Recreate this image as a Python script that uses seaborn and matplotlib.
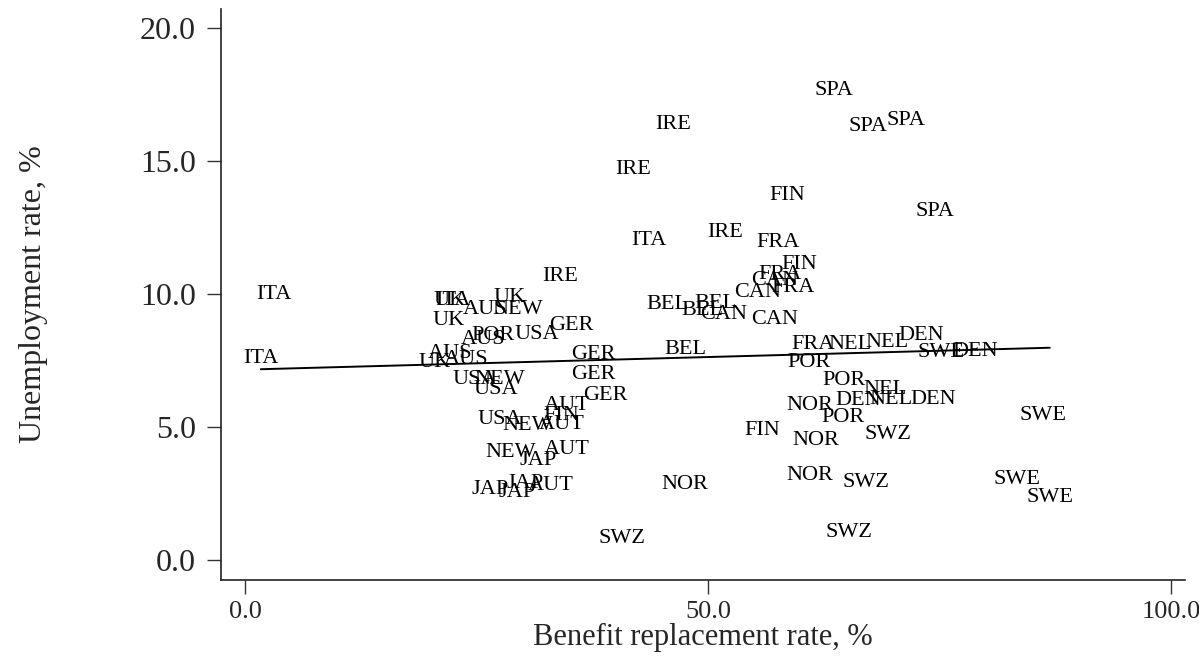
import pandas as pd
import numpy as np
import matplotlib
matplotlib.use("Agg")
import matplotlib.pyplot as plt
from matplotlib.ticker import FormatStrFormatter
import seaborn as sns

# Datos: pais, tasa de reemplazo (%), desempleo (%)
paises = [
    "AUS", "AUS", "AUS", "AUS",
    "AUT", "AUT", "AUT", "AUT",
    "BEL", "BEL", "BEL", "BEL",
    "CAN", "CAN", "CAN", "CAN",
    "DEN", "DEN", "DEN", "DEN",
    "FIN", "FIN", "FIN", "FIN",
    "FRA", "FRA", "FRA", "FRA",
    "GER", "GER", "GER", "GER",
    "IRE", "IRE", "IRE", "IRE",
    "ITA", "ITA", "ITA", "ITA",
    "JAP", "JAP", "JAP", "JAP",
    "NEL", "NEL", "NEL", "NEL",
    "NEW", "NEW", "NEW", "NEW",
    "NOR", "NOR", "NOR", "NOR",
    "POR", "POR", "POR", "POR",
    "SPA", "SPA", "SPA", "SPA",
    "SWE", "SWE", "SWE", "SWE",
    "SWZ", "SWZ", "SWZ", "SWZ",
    "UK", "UK", "UK", "UK",
    "USA", "USA", "USA", "USA",
]
reemplazo = [
    25.9, 25.7, 22.1, 23.9,
    34.7, 34.2, 34.7, 33.0,
    45.6, 49.4, 50.8, 47.6,
    51.7, 55.4, 57.2, 57.2,
    73.0, 78.8, 66.2, 74.3,
    59.8, 58.5, 34.1, 55.9,
    57.6, 57.8, 59.2, 61.3,
    35.2, 37.6, 37.6, 38.9,
    34.0, 41.9, 46.2, 51.8,
    3.1, 1.7, 22.5, 43.6,
    31.6, 26.5, 29.4, 30.2,
    65.3, 69.3, 69.1, 69.7,
    29.4, 27.5, 30.5, 28.7,
    61.0, 61.6, 61.0, 47.5,
    26.8, 60.9, 64.7, 64.6,
    63.6, 67.3, 71.4, 74.5,
    75.1, 86.2, 83.4, 86.9,
    69.4, 67.1, 65.2, 40.7,
    22.1, 28.6, 22.0, 20.5,
    31.5, 24.8, 27.1, 27.5,
]
desempleo = [
    9.29, 8.16, 7.64, 7.41,
    5.68, 4.97, 4.03, 2.67,
    9.48, 9.25, 9.52, 7.79,
    9.10, 9.93, 8.92, 10.38,
    8.31, 7.71, 5.87, 5.91,
    10.98, 13.58, 5.31, 4.74,
    11.81, 10.61, 10.12, 7.98,
    8.69, 7.60, 6.85, 6.06,
    10.53, 14.55, 16.25, 12.19,
    9.86, 7.45, 9.63, 11.89,
    3.61, 2.52, 2.41, 2.75,
    7.98, 8.05, 6.28, 5.91,
    9.29, 6.66, 4.93, 3.92,
    5.68, 4.37, 3.05, 2.71,
    8.31, 7.30, 6.62, 5.23,
    17.52, 16.17, 16.40, 12.98,
    7.67, 5.31, 2.90, 2.22,
    4.59, 2.79, 0.91, 0.68,
    9.63, 9.74, 8.88, 7.30,
    8.35, 6.66, 6.28, 5.16,
]

df = pd.DataFrame({"pais": paises, "reemplazo": reemplazo, "desempleo": desempleo})

sns.set_style("white")
plt.rcParams["font.family"] = ["Liberation Serif", "DejaVu Serif"]

fig = plt.figure(figsize=(11.99, 6.56), dpi=100)
ax = fig.add_axes([0.1843, 0.116, 0.804, 0.870])

# Linea de ajuste lineal (sin puntos)
sns.regplot(data=df, x="reemplazo", y="desempleo", scatter=False, ci=None,
            truncate=True, color="black", line_kws={"linewidth": 1.4}, ax=ax)

# Etiquetas de pais en lugar de marcadores (centradas, un poco por encima del punto)
for _, fila in df.iterrows():
    ax.annotate(fila["pais"], (fila["reemplazo"], fila["desempleo"]),
                xytext=(0, 2.5), textcoords="offset points", fontsize=16,
                ha="center", va="center", color="black")

ax.set_xlim(-2.6, 101.5)
ax.set_ylim(-0.75, 20.71)
ax.set_xticks([0, 50, 100])
ax.set_yticks([0, 5, 10, 15, 20])
ax.xaxis.set_major_formatter(FormatStrFormatter("%.1f"))
ax.yaxis.set_major_formatter(FormatStrFormatter("%.1f"))

for lado in ["top", "right"]:
    ax.spines[lado].set_visible(False)
for lado in ["left", "bottom"]:
    ax.spines[lado].set_color("#222222")
    ax.spines[lado].set_linewidth(1.2)

ax.tick_params(axis="both", direction="out", length=10, width=1, color="#333333",
               bottom=True, left=True)
ax.tick_params(axis="y", labelsize=23, pad=8)
ax.tick_params(axis="x", labelsize=19, pad=5)

ax.set_xlabel("Benefit replacement rate, %", fontsize=22, labelpad=0)
ax.set_ylabel("Unemployment rate, %", fontsize=23, labelpad=66)

plt.savefig("out.png", dpi=100)
